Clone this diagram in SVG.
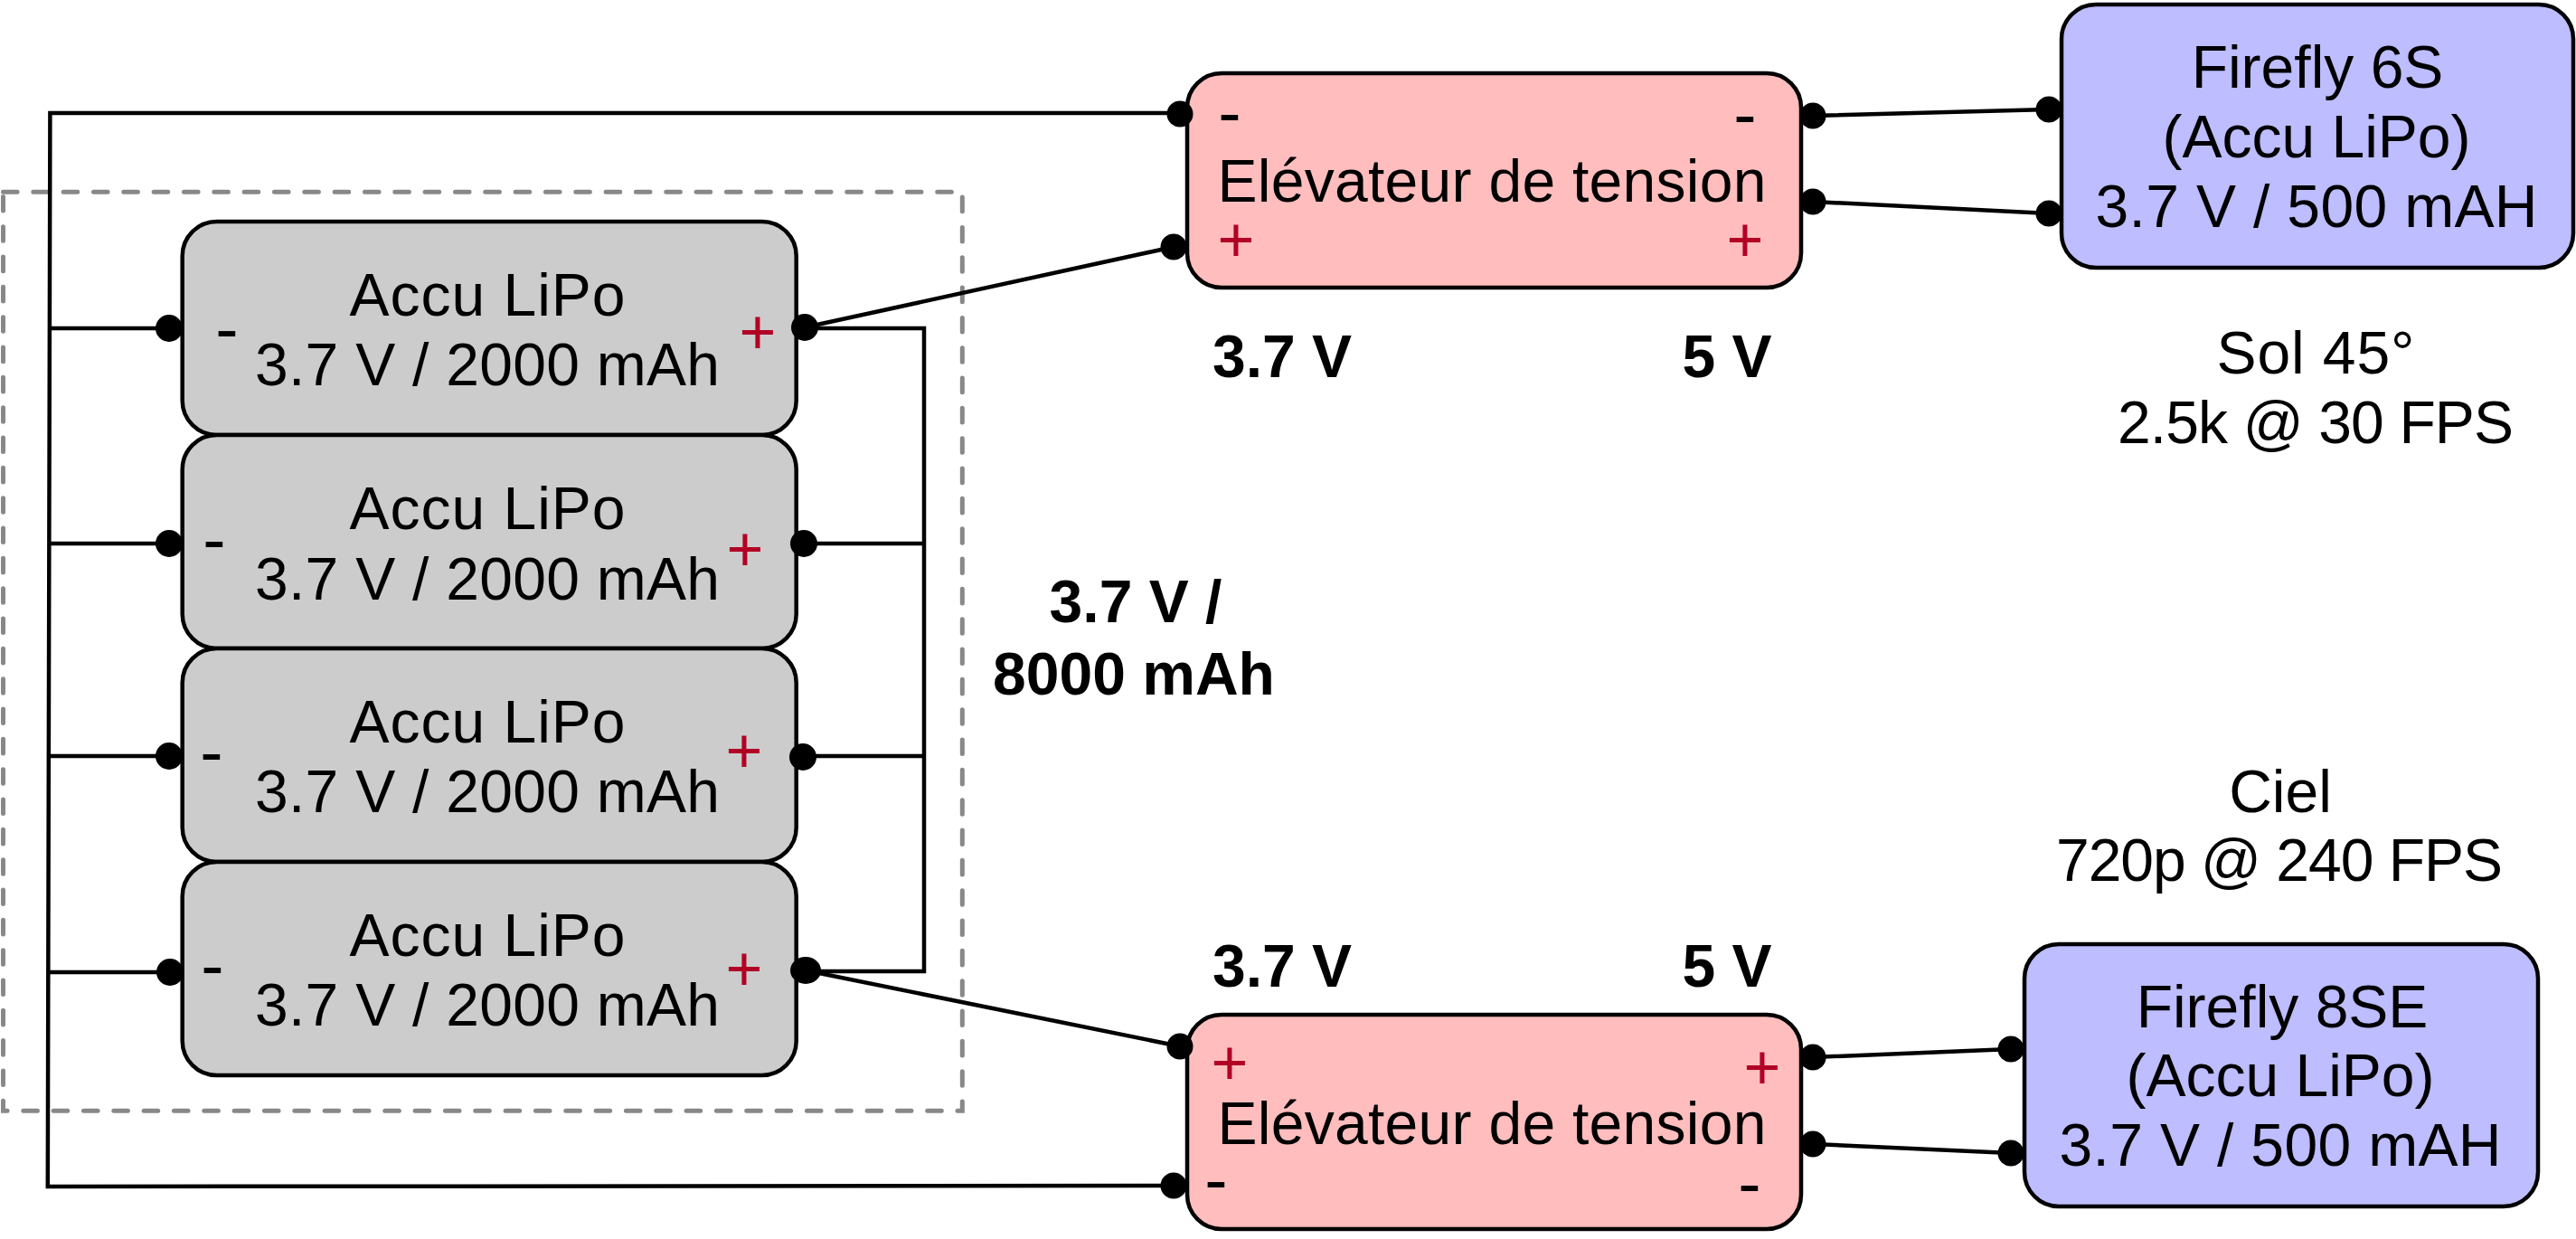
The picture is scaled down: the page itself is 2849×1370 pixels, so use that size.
<svg xmlns="http://www.w3.org/2000/svg" width="2849" height="1370" viewBox="0 0 2849 1370">
<style>
text{font-family:"Liberation Sans",Arial,sans-serif;font-size:66px;fill:#000;text-anchor:middle}
.b{font-weight:bold}
.p{fill:#B20025;font-size:70px}
.m{font-size:76px}
.gray{fill:#CCCCCC}.red{fill:#FFBDBD}.blue{fill:#BDBDFF}
rect.n{stroke:#000;stroke-width:4.5}
.w{fill:none;stroke:#000;stroke-width:4.5;stroke-linejoin:miter}
.frame{fill:none;stroke:#888;stroke-width:5;stroke-dasharray:15.6 17.73;stroke-linecap:round}
.d{fill:#000}
</style>
<rect id="group-frame" class="frame" x="3.5" y="212.3" width="1060.8" height="1016"/>
<g id="connectors">
<path class="w" d="M1305 125H55.4L52.8 1312L1298 1311"/>
<path class="w" d="M55 363H188M54.5 601H188M54 836H188M53.5 1075H188"/>
<path class="w" d="M890 363H1022V1074H891M889 601H1022M888 836H1022"/>
<path class="w" d="M890 362L1298 273M891 1073L1305 1157"/>
<path class="w" d="M2005 128L2266 121M2005 223L2266 236M2005 1169L2224 1160M2005 1265L2224 1275"/>
</g>
<g id="accu1"><rect class="n gray" x="201.7" y="245" width="679" height="236" rx="38"/>
<text x="539" y="349" textLength="305">Accu LiPo</text><text x="539" y="426" textLength="514">3.7 V / 2000 mAh</text>
<text class="m" x="251" y="389">-</text><text class="p" x="838" y="391">+</text>
<circle class="d" cx="187" cy="363" r="15"/><circle class="d" cx="890" cy="362" r="15"/></g>
<g id="accu2"><rect class="n gray" x="201.7" y="481" width="679" height="236" rx="38"/>
<text x="539" y="585" textLength="305">Accu LiPo</text><text x="539" y="663" textLength="514">3.7 V / 2000 mAh</text>
<text class="m" x="237" y="622">-</text><text class="p" x="824" y="631">+</text>
<circle class="d" cx="187" cy="601" r="15"/><circle class="d" cx="889" cy="601" r="15"/></g>
<g id="accu3"><rect class="n gray" x="201.7" y="717" width="679" height="236" rx="38"/>
<text x="539" y="821" textLength="305">Accu LiPo</text><text x="539" y="898" textLength="514">3.7 V / 2000 mAh</text>
<text class="m" x="234" y="857">-</text><text class="p" x="823" y="854">+</text>
<circle class="d" cx="187" cy="836" r="15"/><circle class="d" cx="888" cy="837" r="15"/></g>
<g id="accu4"><rect class="n gray" x="201.7" y="953" width="679" height="236" rx="38"/>
<text x="539" y="1057" textLength="305">Accu LiPo</text><text x="539" y="1134" textLength="514">3.7 V / 2000 mAh</text>
<text class="m" x="235" y="1093">-</text><text class="p" x="823" y="1095">+</text>
<circle class="d" cx="188" cy="1075" r="15"/><ellipse class="d" cx="891" cy="1073" rx="17" ry="15"/></g>
<g id="boost1"><rect class="n red" x="1313" y="81" width="679" height="237" rx="38"/>
<text x="1650" y="223" textLength="607">Elévateur de tension</text>
<text class="m" x="1360" y="150">-</text><text class="m" x="1930" y="152">-</text>
<text class="p" x="1367" y="289">+</text><text class="p" x="1930" y="289">+</text>
<circle class="d" cx="1305" cy="126" r="14.5"/><circle class="d" cx="1298" cy="273" r="14.5"/>
<circle class="d" cx="2005" cy="128" r="14.5"/><circle class="d" cx="2005" cy="223" r="14.5"/></g>
<g id="boost2"><rect class="n red" x="1313" y="1122" width="679" height="237" rx="38"/>
<text x="1650" y="1265" textLength="607">Elévateur de tension</text>
<text class="p" x="1360" y="1199">+</text><text class="p" x="1949" y="1204">+</text>
<text class="m" x="1345" y="1330">-</text><text class="m" x="1935" y="1334">-</text>
<circle class="d" cx="1305" cy="1157" r="14.5"/><circle class="d" cx="1298" cy="1311" r="14.5"/>
<circle class="d" cx="2005" cy="1169" r="14.5"/><circle class="d" cx="2005" cy="1265" r="14.5"/></g>
<g id="firefly6s"><rect class="n blue" x="2280" y="5" width="566" height="291" rx="38"/>
<text x="2563" y="97">Firefly 6S</text><text x="2562" y="174">(Accu LiPo)</text><text x="2562" y="251" textLength="489">3.7 V / 500 mAH</text>
<circle class="d" cx="2266" cy="121" r="14.5"/><circle class="d" cx="2266" cy="236" r="14.5"/></g>
<g id="firefly8se"><rect class="n blue" x="2239" y="1044" width="568" height="290" rx="38"/>
<text x="2524" y="1136">Firefly 8SE</text><text x="2522" y="1212">(Accu LiPo)</text><text x="2522" y="1289" textLength="489">3.7 V / 500 mAH</text>
<circle class="d" cx="2224" cy="1160" r="14.5"/><circle class="d" cx="2224" cy="1275" r="14.5"/></g>
<g id="labels">
<text class="b" x="1418" y="417">3.7 V</text><text class="b" x="1910" y="417">5 V</text>
<text class="b" x="1418" y="1091">3.7 V</text><text class="b" x="1910" y="1091">5 V</text>
<text class="b" x="1256" y="688">3.7 V /</text><text class="b" x="1254" y="768">8000 mAh</text>
<text x="2561" y="413" textLength="219">Sol 45°</text><text x="2561" y="490" textLength="438">2.5k @ 30 FPS</text>
<text x="2522" y="898">Ciel</text><text x="2521" y="974" textLength="494">720p @ 240 FPS</text>
</g>
</svg>
